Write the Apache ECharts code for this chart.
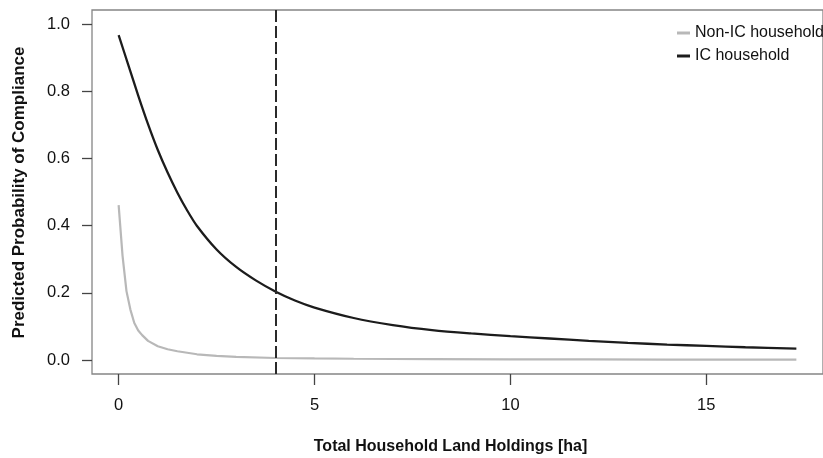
<!DOCTYPE html>
<html>
<head>
<meta charset="utf-8">
<script src="https://cdn.jsdelivr.net/npm/echarts@6/dist/echarts.min.js"></script>
<style>
html,body{margin:0;padding:0;background:#fff;}
#chart{width:823px;height:458px;}
</style>
</head>
<body>
<div id="chart"></div>
<script>
// ---- data ----
var seriesNames = ['Non-IC household', 'IC household'];
var xTicks = [0, 5, 10, 15];
var yTicks = [0, 0.2, 0.4, 0.6, 0.8, 1.0];
var cutoffX = 4;

var xNonIC = [0, 0.1, 0.2, 0.3, 0.4, 0.5, 0.6, 0.75, 1, 1.25, 1.5, 2, 2.5, 3, 4, 5, 6, 8, 10, 12, 14, 17.3];
var yNonIC = [0.461, 0.31, 0.205, 0.15, 0.11, 0.088, 0.074, 0.057, 0.041, 0.032, 0.026, 0.017, 0.012, 0.0095, 0.006, 0.0046, 0.0037, 0.0027, 0.0021, 0.0017, 0.0014, 0.0011];

var xIC = [0, 0.25, 0.5, 0.75, 1, 1.25, 1.5, 1.75, 2, 2.5, 3, 3.5, 4, 4.5, 5, 6, 7, 8, 9, 10, 11, 12, 13, 14, 15, 16, 17.3];
var yIC = [0.967, 0.877, 0.787, 0.702, 0.625, 0.558, 0.498, 0.445, 0.399, 0.329, 0.277, 0.237, 0.204, 0.177, 0.156, 0.125, 0.104, 0.089, 0.079, 0.071, 0.064, 0.057, 0.051, 0.046, 0.042, 0.038, 0.034];

function pairs(xs, ys) { return xs.map(function (x, i) { return [x, ys[i]]; }); }

var chart = echarts.init(document.getElementById('chart'));
var FONT = '"Liberation Sans", Arial, Helvetica, sans-serif';

chart.setOption({
  animation: false,
  backgroundColor: '#ffffff',
  textStyle: { fontFamily: FONT },
  grid: {
    left: 92, top: 10, width: 745, height: 364,
    show: true, borderColor: '#858585', borderWidth: 1.3, backgroundColor: 'transparent'
  },
  xAxis: {
    type: 'value', min: -0.68, max: 17.98, position: 'bottom',
    axisLine: { show: false, onZero: false },
    splitLine: { show: false },
    axisTick: { show: true, length: 11, lineStyle: { color: '#444', width: 1.3 }, customValues: xTicks },
    axisLabel: { show: true, margin: 23, fontSize: 16.5, color: '#111', fontFamily: FONT, customValues: xTicks,
      formatter: function (v) { return String(v); } }
  },
  yAxis: {
    type: 'value', min: -0.04167, max: 1.04167, position: 'left',
    axisLine: { show: false, onZero: false },
    splitLine: { show: false },
    axisTick: { show: true, length: 10, lineStyle: { color: '#444', width: 1.3 }, customValues: yTicks },
    axisLabel: { show: true, margin: 22, fontSize: 16.5, color: '#111', fontFamily: FONT, customValues: yTicks,
      formatter: function (v) { return v.toFixed(1); } }
  },
  legend: {
    orient: 'vertical', left: 677, top: 21.5, padding: 0,
    icon: 'rect', itemWidth: 13, itemHeight: 3, itemGap: 0,
    textStyle: { fontSize: 16, color: '#111', lineHeight: 23, fontFamily: FONT },
    data: seriesNames
  },
  series: [
    {
      name: seriesNames[0], type: 'line', showSymbol: false, symbol: 'none',
      data: pairs(xNonIC, yNonIC),
      lineStyle: { color: '#b8b8b8', width: 2.2 }, itemStyle: { color: '#b8b8b8' },
      silent: true, z: 2
    },
    {
      name: seriesNames[1], type: 'line', showSymbol: false, symbol: 'none',
      data: pairs(xIC, yIC), smooth: 0.3,
      lineStyle: { color: '#1c1c1c', width: 2.3 }, itemStyle: { color: '#1c1c1c' },
      silent: true, z: 3,
      markLine: {
        silent: true, symbol: 'none', animation: false,
        label: { show: false },
        lineStyle: { color: '#2a2a2a', width: 2, type: [12, 4] },
        data: [{ xAxis: cutoffX }]
      }
    }
  ],
  graphic: [
    {
      type: 'text', x: 450.5, y: 447,
      style: { text: 'Total Household Land Holdings [ha]', font: 'bold 16px ' + FONT, fill: '#111',
        textAlign: 'center', textVerticalAlign: 'middle' }
    },
    {
      type: 'text', x: 19.5, y: 192.5, rotation: Math.PI / 2,
      style: { text: 'Predicted Probability of Compliance', font: 'bold 17px ' + FONT, fill: '#111',
        textAlign: 'center', textVerticalAlign: 'middle' }
    }
  ]
});
</script>
</body>
</html>
